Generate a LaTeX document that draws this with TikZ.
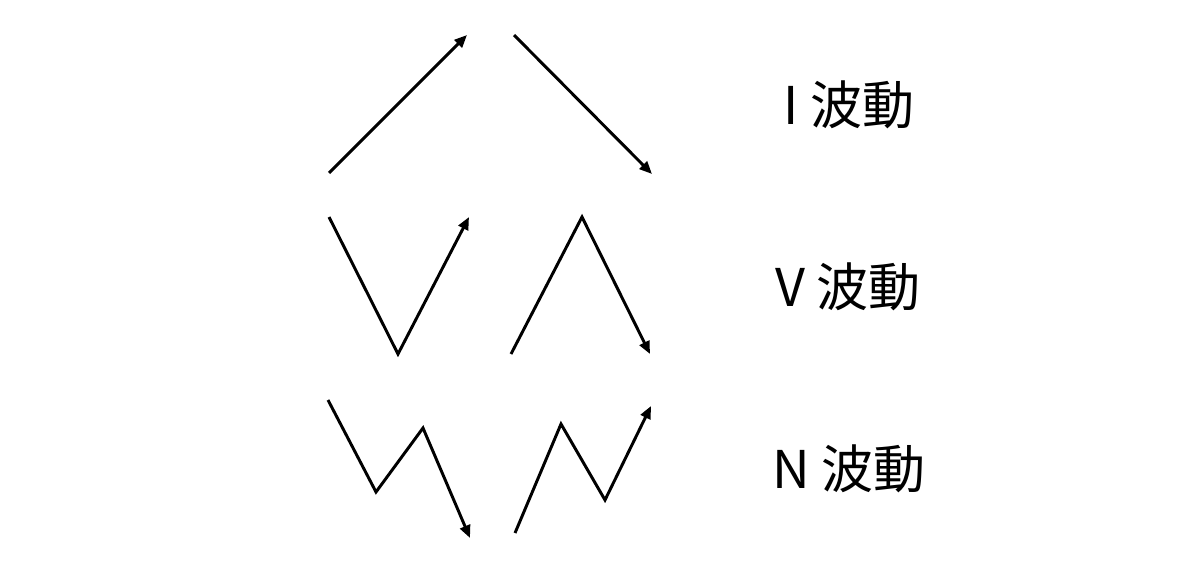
\documentclass[tikz,border=0pt]{standalone}
\usepackage{fontspec}
\usepackage{tikz, tkz-euclide}
\usetikzlibrary{arrows.meta}
\setmainfont{Noto Sans CJK JP}

\begin{document}
\begin{tikzpicture}[x=0.025cm, y=-0.025cm,
    wave/.style={line width=2.1pt, line join=miter},
    wavetip/.style={-{Triangle[length=9pt, width=7.5pt]}},
    wavename/.style={font=\fontsize{37}{40}\selectfont, inner sep=0pt}]
    \useasboundingbox (0,0) rectangle (1200,577);
    % I wave
    \tkzDefPoints{329/173/Ia, 467/35/Ib, 514/35/Ic, 652/174/Id}
    \draw[wave, wavetip] (Ia) -- (Ib);
    \draw[wave, wavetip] (Ic) -- (Id);
    % V wave
    \tkzDefPoints{329/217/Va, 398/354/Vb, 469/217/Vc}
    \tkzDefPoints{511/354/Vd, 582/217/Ve, 650/354/Vf}
    \draw[wave, wavetip] (Va) -- (Vb) -- (Vc);
    \draw[wave, wavetip] (Vd) -- (Ve) -- (Vf);
    % N wave
    \tkzDefPoints{328/400/Na, 376/492/Nb, 423/428/Nc, 470/538/Nd}
    \tkzDefPoints{515/533/Ne, 561/424/Nf, 605/500/Ng, 651/406/Nh}
    \draw[wave, wavetip] (Na) -- (Nb) -- (Nc) -- (Nd);
    \draw[wave, wavetip] (Ne) -- (Nf) -- (Ng) -- (Nh);
    % names
    \node[wavename] (iname) at (849,105) {I 波動};
    \node[wavename] (vname) at (848,287) {V 波動};
    \node[wavename] (nname) at (849,469) {N 波動};
\end{tikzpicture}
\end{document}
